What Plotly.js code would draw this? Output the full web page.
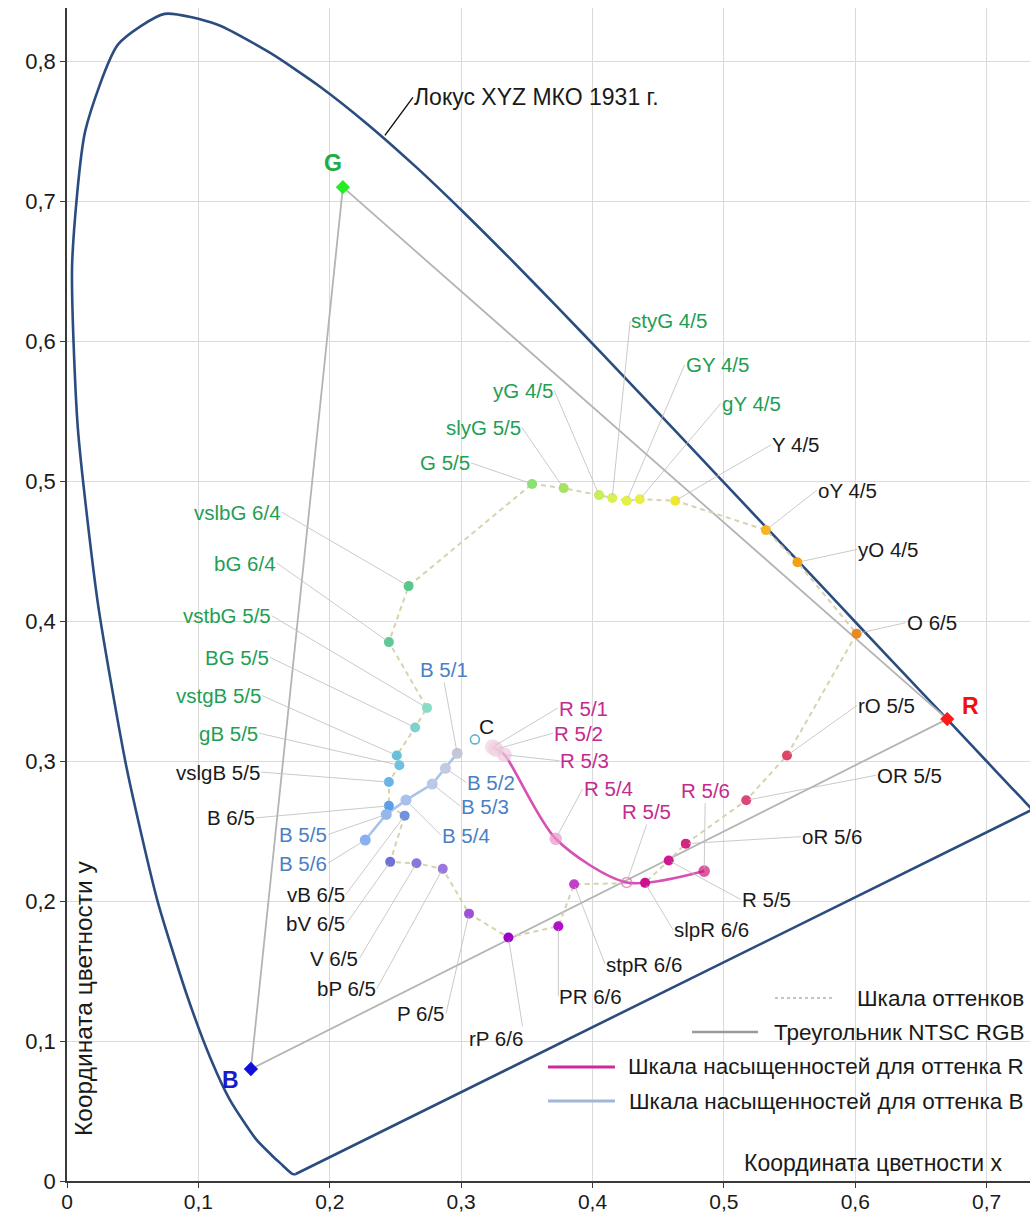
<!DOCTYPE html>
<html>
<head>
<meta charset="utf-8">
<script src="https://cdn.plot.ly/plotly-3.0.1.min.js"></script>
<style>html,body{margin:0;padding:0;background:#fff;}#chart{width:1030px;height:1216px;}</style>
</head>
<body>
<div id="chart"></div>
<script>
// ---------- DATA ----------
// CIE 1931 spectral locus (x, y)
const locusX = [0.1741,0.1738,0.1733,0.1726,0.1714,0.1689,0.1644,0.1566,0.1440,0.1241,0.1096,0.0913,0.0687,0.0454,0.0235,0.0082,0.0039,0.0139,0.0389,0.0743,0.1142,0.1547,0.1929,0.2296,0.2658,0.3016,0.3373,0.3731,0.4087,0.4441,0.4788,0.5125,0.5448,0.5752,0.6029,0.6270,0.6482,0.6658,0.6915,0.7079,0.7190,0.7260,0.7300,0.7334,0.7347];
const locusY = [0.0050,0.0049,0.0048,0.0048,0.0051,0.0069,0.0109,0.0177,0.0297,0.0578,0.0868,0.1327,0.2007,0.2950,0.4127,0.5384,0.6548,0.7502,0.8120,0.8338,0.8262,0.8059,0.7816,0.7543,0.7243,0.6923,0.6589,0.6245,0.5896,0.5547,0.5202,0.4866,0.4544,0.4242,0.3965,0.3725,0.3514,0.3340,0.3083,0.2920,0.2809,0.2740,0.2700,0.2666,0.2653];
const locusLabel = 'Локус XYZ МКО 1931 г.';
const locusLabelAt = [0.242, 0.747];

// NTSC RGB primaries
const ntscNames = ['R','G','B'];
const ntscX = [0.67, 0.21, 0.14];
const ntscY = [0.33, 0.71, 0.08];

// Illuminant C
const cName = ['C'];
const cX = [0.3105];
const cY = [0.3155];

// Hue scale (closed loop)
const hueNames = ['G 5/5','slyG 5/5','yG 4/5','styG 4/5','GY 4/5','gY 4/5','Y 4/5','oY 4/5','yO 4/5','O 6/5','rO 5/5','OR 5/5','oR 5/6','R 5/5','slpR 6/6','stpR 6/6','PR 6/6','rP 6/6','P 6/5','bP 6/5','V 6/5','bV 6/5','vB 6/5','B 6/5','vslgB 5/5','gB 5/5','vstgB 5/5','BG 5/5','vstbG 5/5','bG 6/4','vslbG 6/4'];
const hueX = [0.354,0.378,0.405,0.415,0.426,0.436,0.463,0.532,0.556,0.601,0.548,0.517,0.471,0.458,0.440,0.386,0.374,0.336,0.306,0.286,0.266,0.246,0.257,0.245,0.245,0.253,0.251,0.265,0.274,0.245,0.260];
const hueY = [0.498,0.495,0.490,0.488,0.486,0.487,0.486,0.465,0.442,0.391,0.304,0.272,0.241,0.229,0.213,0.212,0.182,0.174,0.191,0.223,0.227,0.228,0.261,0.268,0.285,0.297,0.304,0.324,0.338,0.385,0.425];

// Saturation scale for hue R
const satRNames = ['R 5/1','R 5/2','R 5/3','R 5/4','R 5/5','R 5/6'];
const satRX = [0.324,0.3265,0.333,0.372,0.426,0.485];
const satRY = [0.310,0.3085,0.3045,0.2445,0.2133,0.2214];

// Saturation scale for hue B
const satBNames = ['B 5/1','B 5/2','B 5/3','B 5/4','B 5/5','B 5/6'];
const satBX = [0.297,0.288,0.278,0.258,0.243,0.227];
const satBY = [0.3055,0.2948,0.2836,0.2721,0.2619,0.2436];

const legendLabels = ['Шкала оттенков','Треугольник NTSC RGB','Шкала насыщенностей для оттенка R','Шкала насыщенностей для оттенка B'];
const xTitle = 'Координата цветности х';
const yTitle = 'Координата цветности у';

// ---------- STYLES ----------
const GREEN_T = '#1f9e55', BLACK_T = '#1a1a1a', BLUE_T = '#4a80c4', MAG_T = '#c42a8e';
const hueColors = ['#8ae070','#a8e262','#c8ee58','#d8f050','#e2f048','#e9ef40','#efe830','#f5b520','#f5a010','#e88a20','#dd4466','#d84878','#d02880','#d01890','#cc1090','#c040c8','#b010c8','#a000c8','#a050d8','#9878dc','#8878dc','#7070d8','#7090e0','#5aa0e8','#68b4e8','#70c0e0','#68c0dc','#80d0d0','#88dcc8','#60c898','#58c888'];
const satRColors = ['#f2d4de','#f0cfe0','#efc9de','#e995c9','#e06ab8','#cc157a'];
const satBColors = ['#c3c8d6','#c3cbe3','#b9c9ea','#a7c0ec','#93b8ee','#86b0ef'];
const ntscColors = ['#ff1a1a','#22ee22','#1010dd'];
const ntscTextColors = ['#ee1111','#22aa44','#1a1acc'];
const ntscShift = {R:[23,13], G:[-10,24], B:[-20,-11]};

// label placement: [ax, ay, xanchor, yanchor, color]
const hueLabelCfg = {
 'G 5/5':[-61,-21,'right','middle',GREEN_T], 'slyG 5/5':[-42,-61,'right','middle',GREEN_T],
 'yG 4/5':[-45,-105,'right','middle',GREEN_T], 'styG 4/5':[18,-177,'left','middle',GREEN_T],
 'GY 4/5':[58,-136,'left','middle',GREEN_T], 'gY 4/5':[81,-96,'left','middle',GREEN_T],
 'Y 4/5':[96,-56,'left','middle',BLACK_T], 'oY 4/5':[51,-40,'left','middle',BLACK_T],
 'yO 4/5':[60,-13,'left','middle',BLACK_T], 'O 6/5':[49,-11,'left','middle',BLACK_T],
 'rO 5/5':[70,-50,'left','middle',BLACK_T], 'OR 5/5':[130,-25,'left','middle',BLACK_T],
 'oR 5/6':[115,-7,'left','middle',BLACK_T], 'R 5/5':[72,39,'left','middle',BLACK_T],
 'slpR 6/6':[28,47,'left','middle',BLACK_T], 'stpR 6/6':[31,80,'left','middle',BLACK_T],
 'PR 6/6':[0,70,'left','middle',BLACK_T], 'rP 6/6':[16,101,'right','middle',BLACK_T],
 'P 6/5':[-23,100,'right','middle',BLACK_T], 'bP 6/5':[-66,120,'right','middle',BLACK_T],
 'V 6/5':[-57,95,'right','middle',BLACK_T], 'bV 6/5':[-44,62,'right','middle',BLACK_T],
 'vB 6/5':[-59,79,'right','middle',BLACK_T], 'B 6/5':[-133,12,'right','middle',BLACK_T],
 'vslgB 5/5':[-128,-10,'right','middle',BLACK_T], 'gB 5/5':[-140,-32,'right','middle',GREEN_T],
 'vstgB 5/5':[-135,-60,'right','middle',GREEN_T], 'BG 5/5':[-145,-70,'right','middle',GREEN_T],
 'vstbG 5/5':[-155,-92,'right','middle',GREEN_T], 'bG 6/4':[-112,-79,'right','middle',GREEN_T],
 'vslbG 6/4':[-127,-74,'right','middle',GREEN_T]
};
const satRLabelCfg = {
 'R 5/1':[65,-39,'left','middle'], 'R 5/2':[57,-16,'left','middle'], 'R 5/3':[55,6,'left','middle'],
 'R 5/4':[27,-50,'left','middle'], 'R 5/5':[20,-58,'center','bottom'], 'R 5/6':[1,-68,'center','bottom']
};
const satBLabelCfg = {
 'B 5/1':[-13,-71,'center','bottom'], 'B 5/2':[21,14,'left','middle'], 'B 5/3':[28,22,'left','middle'],
 'B 5/4':[35,35,'left','middle'], 'B 5/5':[-58,20,'right','middle'], 'B 5/6':[-37,23,'right','middle']
};

const FONT = 'Arial, "Liberation Sans", sans-serif';
const LABEL_SIZE = 20.5;

// ---------- TRACES ----------
const traces = [];
// spectral locus (smooth)
traces.push({x: locusX, y: locusY, mode:'lines',
  line:{color:'#2a4c7f', width:2.6, shape:'spline', smoothing:0.6}, hoverinfo:'skip'});
// purple line closing the locus
traces.push({x: [locusX[0], locusX[locusX.length-1]], y: [locusY[0], locusY[locusY.length-1]], mode:'lines',
  line:{color:'#2a4c7f', width:2.6}, hoverinfo:'skip'});
traces.push({x: ntscX.concat([ntscX[0]]), y: ntscY.concat([ntscY[0]]), mode:'lines',
  line:{color:'#b4b4b4', width:1.8}, hoverinfo:'skip'});
traces.push({x: hueX.concat([hueX[0]]), y: hueY.concat([hueY[0]]), mode:'lines',
  line:{color:'#d8d2ae', width:2, dash:'5px,4px'}, hoverinfo:'skip'});
traces.push({x: satBX, y: satBY, mode:'lines', line:{color:'#a9c4e8', width:2.6}, hoverinfo:'skip'});
traces.push({x: satRX, y: satRY, mode:'lines', line:{color:'#d651b4', width:2.6, shape:'spline', smoothing:0.8}, hoverinfo:'skip'});
traces.push({x: hueX, y: hueY, mode:'markers', text: hueNames,
  marker:{size:10, color:hueColors}, hoverinfo:'text'});
traces.push({x: satBX, y: satBY, mode:'markers', text: satBNames,
  marker:{size:11, color:satBColors}, hoverinfo:'text'});
traces.push({x: satRX, y: satRY, mode:'markers', text: satRNames,
  marker:{size:[14,14,13,11,10,10], color:satRColors,
    symbol:['circle','circle','circle','circle','circle-open','circle'],
    line:{color:satRColors, width:1.6}}, hoverinfo:'text'});
traces.push({x: cX, y: cY, mode:'markers', text: cName,
  marker:{size:9, color:'#5fb4cf', symbol:'circle-open', line:{width:1.6, color:'#5fb4cf'}}, hoverinfo:'text'});
traces.push({x: ntscX, y: ntscY, mode:'markers', text: ntscNames,
  marker:{size:11, color:ntscColors, symbol:'diamond'}, hoverinfo:'text'});

// ---------- ANNOTATIONS ----------
const ann = [];
function leader(x, y, text, cfg, color){
  ann.push({x:x, y:y, xref:'x', yref:'y', text:text, showarrow:true, arrowhead:0,
    arrowwidth:0.8, arrowcolor:'#bdbdbd', standoff:3, ax:cfg[0], ay:cfg[1],
    xanchor:cfg[2], yanchor:cfg[3], borderpad:0,
    font:{family:FONT, size:LABEL_SIZE, color:color}});
}
hueNames.forEach((n,i)=>{ const c = hueLabelCfg[n]; leader(hueX[i], hueY[i], n, c, c[4]); });
satRNames.forEach((n,i)=>leader(satRX[i], satRY[i], n, satRLabelCfg[n], MAG_T));
satBNames.forEach((n,i)=>leader(satBX[i], satBY[i], n, satBLabelCfg[n], BLUE_T));

ntscNames.forEach((n,i)=>{
  ann.push({x:ntscX[i], y:ntscY[i], xref:'x', yref:'y', text:'<b>'+n+'</b>', showarrow:false,
    xshift:ntscShift[n][0], yshift:ntscShift[n][1], font:{family:FONT, size:23, color:ntscTextColors[i]}});
});
ann.push({x:cX[0], y:cY[0], xref:'x', yref:'y', text:cName[0], showarrow:false, xshift:12, yshift:13,
  font:{family:FONT, size:21, color:BLACK_T}});
ann.push({x:locusLabelAt[0], y:locusLabelAt[1], xref:'x', yref:'y', text:locusLabel, showarrow:true,
  arrowhead:0, arrowwidth:1.4, arrowcolor:'#111', ax:28, ay:-38, xanchor:'left', yanchor:'middle',
  standoff:0, borderpad:0, font:{family:FONT, size:23, color:BLACK_T}});

// axis titles placed inside the plot area
ann.push({xref:'paper', yref:'paper', x:0.0171, y:0.0367, text:yTitle, textangle:-90, showarrow:false,
  xanchor:'center', yanchor:'bottom', font:{family:FONT, size:24.5, color:BLACK_T}});
ann.push({xref:'paper', yref:'paper', x:0.973, y:0.0153, text:xTitle, showarrow:false,
  xanchor:'right', yanchor:'middle', font:{family:FONT, size:23, color:BLACK_T}});

// manual legend (right-aligned)
const legRowsY = [0.1560, 0.1270, 0.0972, 0.0682];
const legSample = [[0.7352,0.7975],[0.649,0.7176],[0.4995,0.569],[0.4995,0.569]];
const legLine = [{color:'#b0b0b0', width:1.4, dash:'dot'},{color:'#9a9a9a', width:2.6},{color:'#cc2a9c', width:3},{color:'#9fb8d8', width:3}];
const shapes = [];
legendLabels.forEach((t,i)=>{
  ann.push({xref:'paper', yref:'paper', x:0.996, y:legRowsY[i], text:t, showarrow:false,
    xanchor:'right', yanchor:'middle', font:{family:FONT, size:22.5, color:'#1a1a1a'}});
  shapes.push({type:'line', xref:'paper', yref:'paper', x0:legSample[i][0], x1:legSample[i][1],
    y0:legRowsY[i], y1:legRowsY[i], line:legLine[i]});
});

const axisCommon = {
  showgrid:true, gridcolor:'#dadada', gridwidth:1, zeroline:false,
  showline:true, linecolor:'#3a3a3a', linewidth:1.5, ticks:'outside', ticklen:5,
  tickcolor:'#3a3a3a', tickwidth:1.2, dtick:0.1, tick0:0
};

const layout = {
  width:1030, height:1216,
  margin:{l:67, r:0, t:8, b:35},
  paper_bgcolor:'#fff', plot_bgcolor:'#fff',
  separators:', ',
  showlegend:false,
  xaxis:Object.assign({range:[0,0.733], ticklabelstandoff:-4,
    tickfont:{family:FONT, size:21, color:'#1a1a1a'}}, axisCommon),
  yaxis:Object.assign({range:[0,0.838],
    tickfont:{family:FONT, size:22, color:'#1a1a1a'}}, axisCommon),
  annotations:ann,
  shapes:shapes,
  hovermode:'closest'
};

Plotly.newPlot('chart', traces, layout, {displayModeBar:false, responsive:false});
</script>
</body>
</html>
